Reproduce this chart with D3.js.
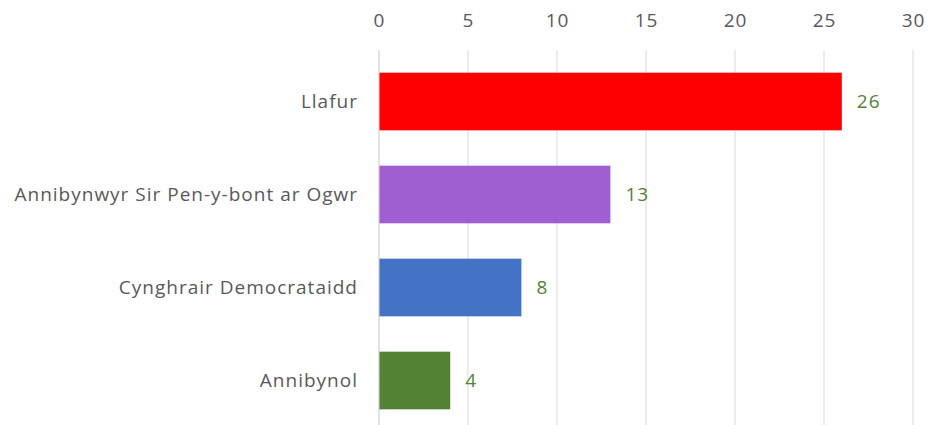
<!DOCTYPE html>
<html>
<head>
<meta charset="utf-8">
<script src="https://cdn.jsdelivr.net/npm/d3@7"></script>
<style>
    body { margin: 0; background: #fff; }
    text { font-family: "Open Sans", sans-serif; }
</style>
</head>
<body>
<div id="chart"></div>
<script>
var parties = ['Llafur', 'Annibynwyr Sir Pen-y-bont ar Ogwr', 'Cynghrair Democrataidd', 'Annibynol'];
var seats = [26, 13, 8, 4];
var colours = ['#ff0000', '#a05fd0', '#4472c4', '#548235'];
var ticks = [0, 5, 10, 15, 20, 25, 30];

var width = 929;
var height = 425;
var padding = {top: 50, right: 16, bottom: 0, left: 379};

var xScale = d3.scaleLinear()
    .domain([0, 30])
    .range([padding.left, 913]);
var yScale = d3.scaleBand()
    .domain(parties)
    .range([55, 427])
    .paddingInner(0.38)
    .paddingOuter(0.19);

var svg = d3.select('#chart')
    .append('svg')
    .attr('width', width)
    .attr('height', height);

// gridlines
svg.append('g')
    .selectAll('line')
    .data(ticks)
    .enter()
    .append('line')
    .attr('x1', function (d) { return xScale(d); })
    .attr('x2', function (d) { return xScale(d); })
    .attr('y1', padding.top)
    .attr('y2', height)
    .attr('stroke', '#d9d9d9')
    .attr('stroke-width', 1);

// top axis labels
var xAxis = d3.axisTop(xScale)
    .tickValues(ticks)
    .tickSize(0)
    .tickPadding(0);
var gx = svg.append('g')
    .attr('transform', 'translate(0,27)')
    .call(xAxis);
gx.select('.domain').remove();
gx.selectAll('text')
    .attr('fill', '#595959')
    .attr('font-size', '19px')
    .attr('letter-spacing', '1px')
    .attr('font-family', '"Open Sans", sans-serif');

// bars
svg.append('g')
    .selectAll('rect')
    .data(parties)
    .enter()
    .append('rect')
    .attr('x', xScale(0))
    .attr('y', function (d) { return yScale(d); })
    .attr('width', function (d, i) { return xScale(seats[i]) - xScale(0); })
    .attr('height', yScale.bandwidth())
    .attr('fill', function (d, i) { return colours[i]; });

// vertical axis line
svg.append('line')
    .attr('x1', xScale(0))
    .attr('x2', xScale(0))
    .attr('y1', padding.top)
    .attr('y2', height)
    .attr('stroke', '#d9d9d9');

// category labels
var yAxis = d3.axisLeft(yScale)
    .tickSize(0)
    .tickPadding(21);
var gy = svg.append('g')
    .attr('transform', 'translate(' + xScale(0) + ',0)')
    .call(yAxis);
gy.select('.domain').remove();
gy.selectAll('text')
    .attr('fill', '#595959')
    .attr('font-size', '19px')
    .attr('letter-spacing', '1px')
    .attr('font-family', '"Open Sans", sans-serif');

// value labels
svg.append('g')
    .selectAll('text')
    .data(parties)
    .enter()
    .append('text')
    .attr('x', function (d, i) { return xScale(seats[i]) + 15; })
    .attr('y', function (d) { return yScale(d) + yScale.bandwidth() / 2; })
    .attr('dy', '0.35em')
    .attr('fill', '#548235')
    .attr('font-size', '19px')
    .attr('letter-spacing', '1px')
    .text(function (d, i) { return seats[i]; });
</script>
</body>
</html>
